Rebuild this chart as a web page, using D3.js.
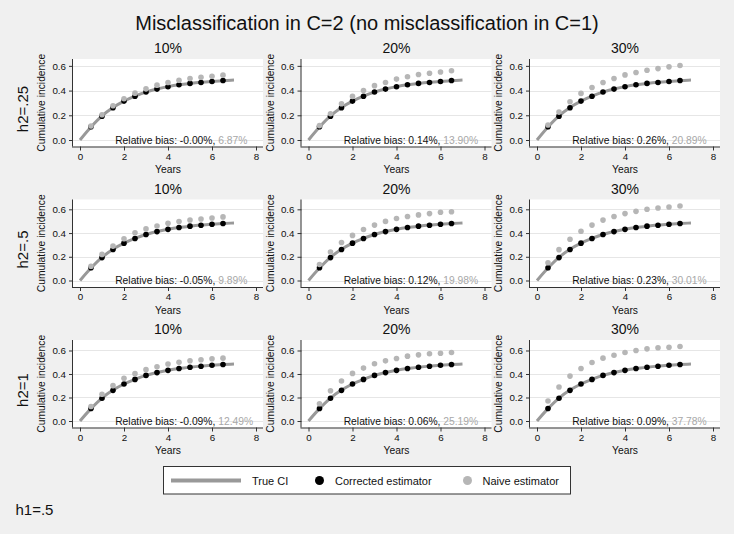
<!DOCTYPE html>
<html>
<head>
<meta charset="utf-8">
<script src="https://cdn.jsdelivr.net/npm/d3@7"></script>
<style>
  html, body { margin: 0; padding: 0; background: #f0f0f0; }
  svg { display: block; font-family: "Liberation Sans", Arial, sans-serif; }
</style>
</head>
<body>
<svg id="chart" width="734" height="534"></svg>
<script>
// ---- data ----
const colLabels = ["10%", "20%", "30%"];
const rowLabels = ["h2=.25", "h2=.5", "h2=1"];
const xTicks = [0, 2, 4, 6, 8];
const yTicks = [0, 0.2, 0.4, 0.6];

const trueYears = [0, 0.5, 1, 1.5, 2, 2.5, 3, 3.5, 4, 4.5, 5, 5.5, 6, 6.5, 7];
const trueCI    = [0, 0.105, 0.195, 0.263, 0.315, 0.355, 0.388, 0.413, 0.432, 0.447, 0.458, 0.467, 0.474, 0.480, 0.485];

const estYears  = [0.5, 1, 1.5, 2, 2.5, 3, 3.5, 4, 4.5, 5, 5.5, 6, 6.5];
const corrected = [0.107, 0.193, 0.261, 0.315, 0.354, 0.388, 0.412, 0.431, 0.447, 0.458, 0.466, 0.474, 0.481];

// naive estimator, by row (h2) then column (misclassification %)
const naiveR1C1 = [0.113, 0.204, 0.277, 0.334, 0.379, 0.414, 0.444, 0.465, 0.484, 0.498, 0.508, 0.516, 0.525];
const naiveR1C2 = [0.116, 0.213, 0.294, 0.353, 0.400, 0.440, 0.466, 0.493, 0.512, 0.530, 0.540, 0.550, 0.560];
const naiveR1C3 = [0.121, 0.226, 0.309, 0.377, 0.425, 0.465, 0.498, 0.527, 0.546, 0.565, 0.578, 0.592, 0.603];
const naiveR2C1 = [0.120, 0.220, 0.290, 0.352, 0.402, 0.435, 0.460, 0.483, 0.497, 0.510, 0.519, 0.527, 0.536];
const naiveR2C2 = [0.135, 0.240, 0.320, 0.380, 0.430, 0.467, 0.498, 0.522, 0.539, 0.553, 0.564, 0.575, 0.580];
const naiveR2C3 = [0.149, 0.260, 0.348, 0.415, 0.467, 0.509, 0.539, 0.564, 0.583, 0.600, 0.611, 0.619, 0.628];
const naiveR3C1 = [0.124, 0.228, 0.301, 0.363, 0.403, 0.437, 0.462, 0.485, 0.499, 0.513, 0.521, 0.530, 0.535];
const naiveR3C2 = [0.147, 0.258, 0.340, 0.405, 0.450, 0.487, 0.512, 0.532, 0.552, 0.563, 0.572, 0.577, 0.583];
const naiveR3C3 = [0.170, 0.289, 0.382, 0.447, 0.498, 0.535, 0.560, 0.583, 0.600, 0.614, 0.623, 0.628, 0.634];

const biasCorrected = [["-0.00%", "0.14%", "0.26%"], ["-0.05%", "0.12%", "0.23%"], ["-0.09%", "0.06%", "0.09%"]];
const biasNaive     = [["6.87%", "13.90%", "20.89%"], ["9.89%", "19.98%", "30.01%"], ["12.49%", "25.19%", "37.78%"]];

const naiveGrid = [[naiveR1C1, naiveR1C2, naiveR1C3], [naiveR2C1, naiveR2C2, naiveR2C3], [naiveR3C1, naiveR3C2, naiveR3C3]];

// ---- layout ----
const svg = d3.select("#chart");
const colX = [73, 301.5, 530];
const rowY = [59, 199.5, 340];
const pw = 190, ph = 87.5, pad = 6.5, xpadL = 7, xpadR = 7;

const cLine = "#999999", cNaive = "#b6b6b6", cCorr = "#000000", cGrayText = "#a8a8a8", cGrid = "#e6e6e6";

svg.append("rect").attr("width", 734).attr("height", 534).attr("fill", "#f0f0f0");

svg.append("text").attr("x", 367).attr("y", 30).attr("text-anchor", "middle")
  .attr("font-size", 20).attr("fill", "#111").text("Misclassification in C=2 (no misclassification in C=1)");

rowLabels.forEach((rl, r) => {
  const y0 = rowY[r];
  const rowMax = d3.max([0.6, d3.max(trueCI), d3.max(corrected), ...naiveGrid[r].map(a => d3.max(a))]);
  const y = d3.scaleLinear().domain([0, rowMax]).range([y0 + ph - pad, y0 + pad]);

  svg.append("text").attr("transform", `translate(27.5,${y0 + 50}) rotate(-90)`)
    .attr("text-anchor", "middle").attr("font-size", 15).attr("fill", "#111").text(rl);

  colLabels.forEach((cl, c) => {
    const x0 = colX[c];
    const x = d3.scaleLinear().domain([0, 8]).range([x0 + xpadL, x0 + pw - xpadR]);
    const g = svg.append("g");

    g.append("rect").attr("x", x0).attr("y", y0).attr("width", pw).attr("height", ph).attr("fill", "#fff");

    // gridlines
    g.selectAll(".grid").data(yTicks).join("line")
      .attr("x1", x0).attr("x2", x0 + pw)
      .attr("y1", d => Math.round(y(d)) + 0.5).attr("y2", d => Math.round(y(d)) + 0.5)
      .attr("stroke", cGrid).attr("stroke-width", 1);

    // subtitle
    svg.append("text").attr("x", x0 + pw / 2).attr("y", y0 - 6).attr("text-anchor", "middle")
      .attr("font-size", 14).attr("fill", "#111").text(cl);

    // y axis
    const ya = d3.axisLeft(y).tickValues(yTicks).tickFormat(d3.format(".1f")).tickSize(4).tickPadding(3);
    const yg = g.append("g").attr("transform", `translate(${x0},0)`).call(ya);
    yg.select(".domain").remove();
    yg.selectAll("line").attr("stroke", "#333");
    yg.selectAll("text").attr("font-size", 9.8).attr("fill", "#111").attr("font-family", "Liberation Sans, Arial, sans-serif");
    g.append("line").attr("x1", x0 - 0.5).attr("x2", x0 - 0.5).attr("y1", y0).attr("y2", y0 + ph)
      .attr("stroke", "#333").attr("stroke-width", 1);

    // x axis
    const xa = d3.axisBottom(x).tickValues(xTicks).tickFormat(d3.format("d")).tickSize(4).tickPadding(2.5);
    const xg = g.append("g").attr("transform", `translate(0,${y0 + ph})`).call(xa);
    xg.select(".domain").remove();
    xg.selectAll("line").attr("stroke", "#333");
    xg.selectAll("text").attr("font-size", 9.8).attr("fill", "#111").attr("font-family", "Liberation Sans, Arial, sans-serif");
    g.append("line").attr("x1", x0 - 1).attr("x2", x0 + pw).attr("y1", y0 + ph + 0.5).attr("y2", y0 + ph + 0.5)
      .attr("stroke", "#333").attr("stroke-width", 1);

    // axis titles
    g.append("text").attr("x", x0 + pw / 2).attr("y", y0 + ph + 26.5).attr("text-anchor", "middle")
      .attr("font-size", 10.3).attr("fill", "#111").text("Years");
    g.append("text").attr("transform", `translate(${x0 - 28},${y0 + ph / 2}) rotate(-90)`)
      .attr("text-anchor", "middle").attr("font-size", 10.3).attr("fill", "#111").text("Cumulative incidence");

    // true CI line
    const line = d3.line().x((d, i) => x(trueYears[i])).y(d => y(d)).curve(d3.curveMonotoneX);
    g.append("path").attr("d", line(trueCI)).attr("fill", "none").attr("stroke", cLine).attr("stroke-width", 3);

    // corrected
    g.selectAll(".corr").data(corrected).join("circle")
      .attr("cx", (d, i) => x(estYears[i])).attr("cy", d => y(d)).attr("r", 2.8).attr("fill", cCorr);

    // naive
    g.selectAll(".naive").data(naiveGrid[r][c]).join("circle")
      .attr("cx", (d, i) => x(estYears[i])).attr("cy", d => y(d)).attr("r", 2.8).attr("fill", cNaive);

    // relative bias
    const t = g.append("text").attr("x", x(1.6)).attr("y", y(0) + 3.7).attr("text-anchor", "start")
      .attr("font-size", 10.3).attr("fill", "#111");
    t.append("tspan").text(`Relative bias: ${biasCorrected[r][c]}, `);
    t.append("tspan").attr("fill", cGrayText).text(biasNaive[r][c]);
  });
});

// legend
const lg = svg.append("g");
lg.append("rect").attr("x", 163.5).attr("y", 466.5).attr("width", 407).attr("height", 27.5)
  .attr("fill", "#fff").attr("stroke", "#333").attr("stroke-width", 1);
const ly = 480.5;
lg.append("line").attr("x1", 171).attr("x2", 241).attr("y1", ly).attr("y2", ly).attr("stroke", cLine).attr("stroke-width", 4);
lg.append("text").attr("x", 252).attr("y", ly + 4).attr("font-size", 11).attr("fill", "#111").text("True CI");
lg.append("circle").attr("cx", 319.5).attr("cy", ly).attr("r", 4.5).attr("fill", cCorr);
lg.append("text").attr("x", 335).attr("y", ly + 4).attr("font-size", 11).attr("fill", "#111").text("Corrected estimator");
lg.append("circle").attr("cx", 467.5).attr("cy", ly).attr("r", 4.5).attr("fill", cNaive);
lg.append("text").attr("x", 482.5).attr("y", ly + 4).attr("font-size", 11).attr("fill", "#111").text("Naive estimator");

svg.append("text").attr("x", 15.5).attr("y", 514.5).attr("font-size", 15).attr("fill", "#111").text("h1=.5");
</script>
</body>
</html>
